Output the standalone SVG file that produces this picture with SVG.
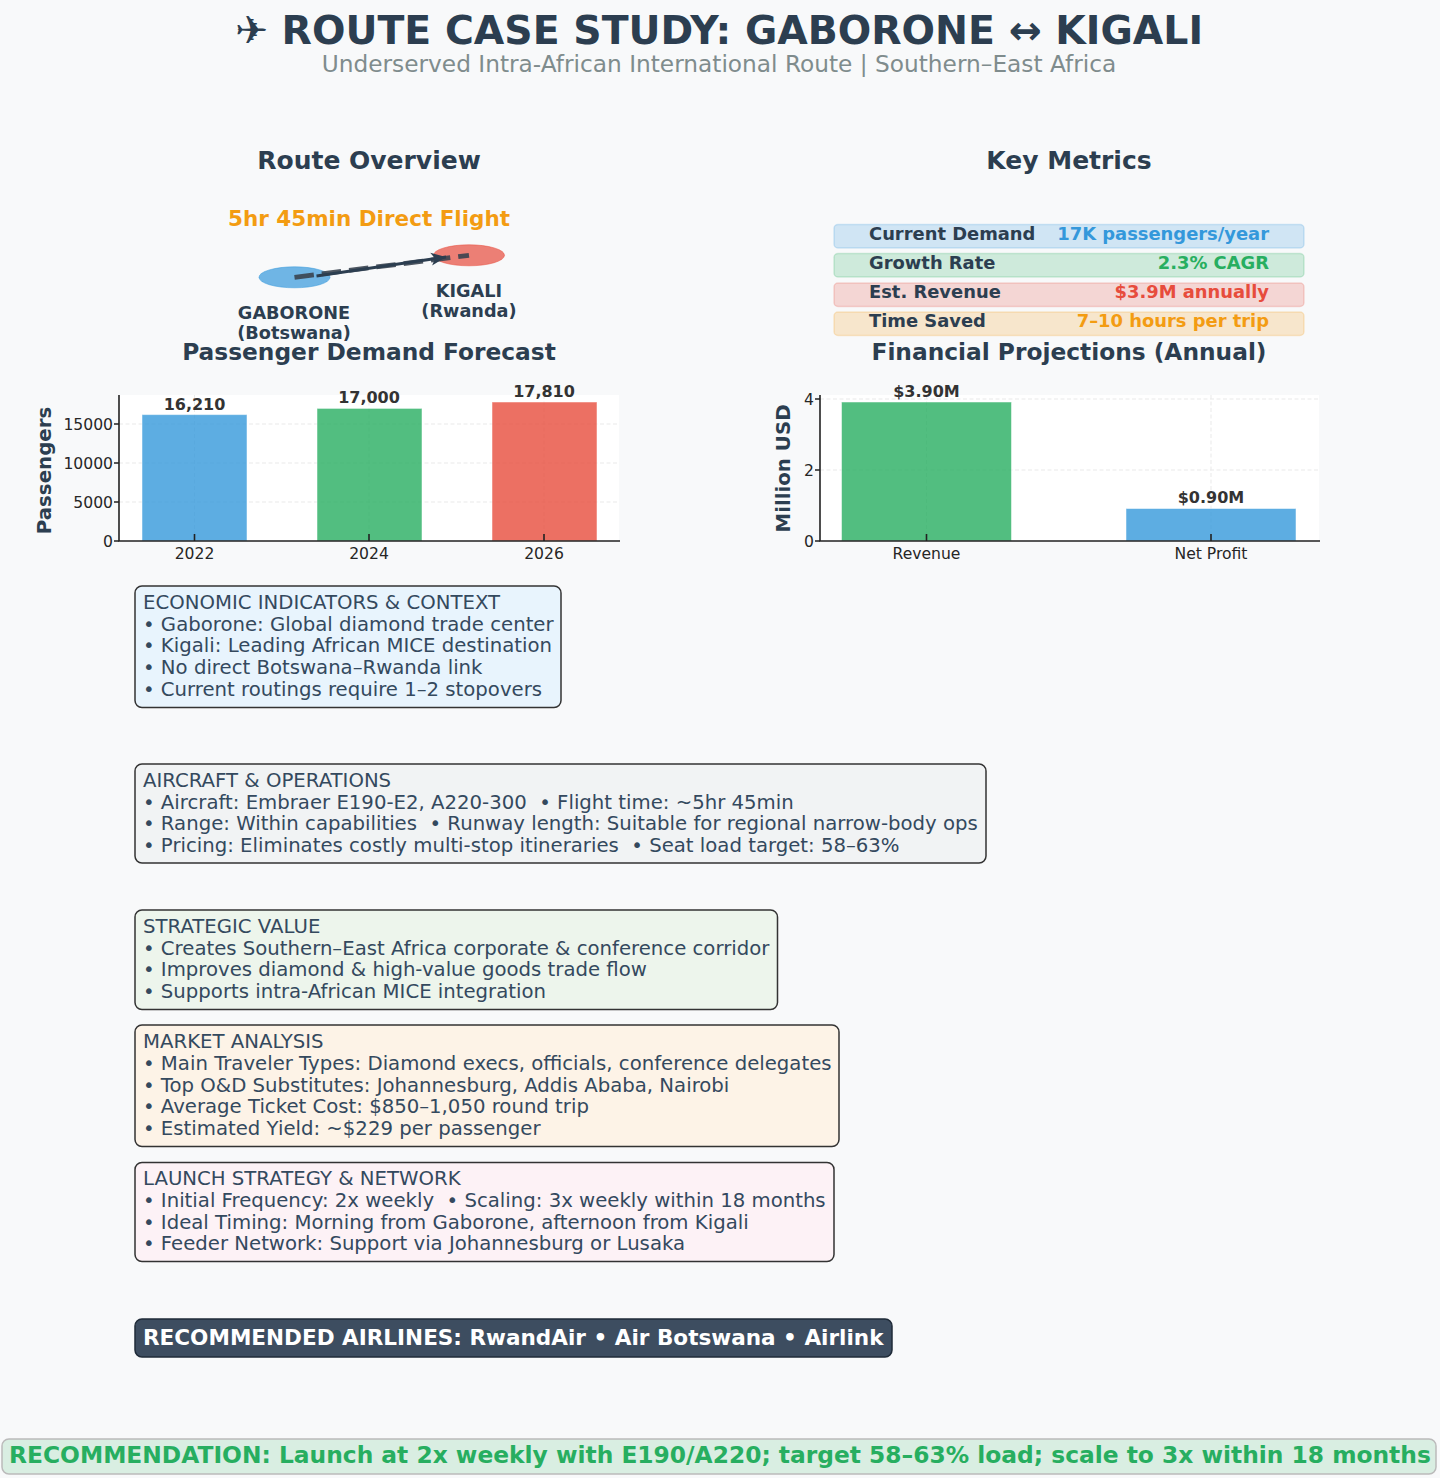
<svg xmlns="http://www.w3.org/2000/svg" width="1440" height="1478" viewBox="0 0 1440 1478">
<style>
text{font-family:"DejaVu Sans","Liberation Sans",sans-serif;white-space:pre;fill:#2c3e50}
.b{font-weight:700}
.m{text-anchor:middle}
.e{text-anchor:end}
.h{font-size:25px;font-weight:700;text-anchor:middle}
.h2{font-size:23.3px;font-weight:700;text-anchor:middle}
.box{stroke:#333;stroke-width:1.5}
.bt{font-size:19.7px;fill:#34495e}
.tick{font-size:15.6px;fill:#262626}
.val{font-size:16px;font-weight:700;fill:#333}
.yl{font-size:19.8px;font-weight:700;text-anchor:middle}
.grid{stroke:#ddd;stroke-width:1;stroke-dasharray:4 2.5;opacity:.6}
.ax{stroke:#222;stroke-width:1.6;fill:none}
.bar{stroke:#fff;stroke-opacity:.5;stroke-width:1;fill-opacity:.8}
.mk{font-size:17.9px;font-weight:700}
.mr{stroke-width:1.5;fill-opacity:.2;stroke-opacity:.2}
.city{font-size:17.7px;font-weight:700;text-anchor:middle}
</style>
<defs>
<marker id="ah" markerUnits="userSpaceOnUse" markerWidth="18" markerHeight="14" refX="15" refY="7" orient="auto"><path d="M0 0.500 L15 7 L0 13.500 L4 7 Z" fill="#2c3e50"/></marker>
</defs>
<rect width="1440" height="1478" fill="#f8f9fa"/>
<g id="title">
<text class="b m" x="719" y="44" font-size="39.400">✈ ROUTE CASE STUDY: GABORONE ↔ KIGALI</text>
<text class="m" x="719" y="72" font-size="23.260" style="fill:#7f8c8d">Underserved Intra-African International Route | Southern–East Africa</text>
</g>
<g id="route-overview">
<text class="h" x="369" y="169">Route Overview</text>
<text class="b m" x="369" y="226" font-size="21.500" style="fill:#f39c12">5hr 45min Direct Flight</text>
</g>
<g id="node-gaborone">
<ellipse cx="294.500" cy="277.300" rx="35.500" ry="10.500" fill="#3498db" fill-opacity=".7" stroke="#3498db" stroke-opacity=".5"/>
<text class="city" x="294" y="319">GABORONE</text>
<text class="city" x="294" y="339">(Botswana)</text>
</g>
<g id="node-kigali">
<ellipse cx="469" cy="255.300" rx="35.500" ry="10.500" fill="#e74c3c" fill-opacity=".7" stroke="#e74c3c" stroke-opacity=".5"/>
<text class="city" x="469" y="297">KIGALI</text>
<text class="city" x="469" y="317">(Rwanda)</text>
</g>
<g id="connectors">
<line x1="294.500" y1="277.300" x2="469" y2="255.300" stroke="#3a4450" stroke-opacity=".9" stroke-width="4.800" stroke-dasharray="19.500 8"/>
<line x1="316.500" y1="276" x2="446" y2="257" stroke="#2c3e50" stroke-width="2.800" marker-end="url(#ah)"/>
</g>
<g id="key-metrics">
<text class="h" x="1069" y="169">Key Metrics</text>
</g>
<g id="metric-demand">
<rect class="mr" x="834" y="224.500" width="470" height="23.500" rx="4" fill="#3498db" stroke="#3498db"/>
<text class="mk" x="869" y="239.500">Current Demand</text>
<text class="mk e" x="1269" y="239.500" style="fill:#3498db">17K passengers/year</text>
</g>
<g id="metric-growth">
<rect class="mr" x="834" y="253.500" width="470" height="23.500" rx="4" fill="#27ae60" stroke="#27ae60"/>
<text class="mk" x="869" y="268.500">Growth Rate</text>
<text class="mk e" x="1269" y="268.500" style="fill:#27ae60">2.3% CAGR</text>
</g>
<g id="metric-revenue">
<rect class="mr" x="834" y="283" width="470" height="23.500" rx="4" fill="#e74c3c" stroke="#e74c3c"/>
<text class="mk" x="869" y="297.500">Est. Revenue</text>
<text class="mk e" x="1269" y="297.500" style="fill:#e74c3c">$3.9M annually</text>
</g>
<g id="metric-time">
<rect class="mr" x="834" y="312" width="470" height="23.500" rx="4" fill="#f39c12" stroke="#f39c12"/>
<text class="mk" x="869" y="326.500">Time Saved</text>
<text class="mk e" x="1269" y="326.500" style="fill:#f39c12">7–10 hours per trip</text>
</g>
<g id="chart-passengers">
<text class="h2" x="369" y="360">Passenger Demand Forecast</text>
<rect x="119" y="395" width="500" height="146" fill="#fff"/>
<path class="grid" d="M119 424H619M119 463H619M119 502H619M194.500 395V541M369 395V541M544 395V541"/>
<rect class="bar" x="142" y="414.600" width="105" height="126.400" fill="#3498db"/>
<rect class="bar" x="317" y="408.400" width="105" height="132.600" fill="#27ae60"/>
<rect class="bar" x="492" y="402" width="105" height="139" fill="#e74c3c"/>
<path class="ax" d="M119 395V541H620"/>
<path class="ax" stroke-width="1" d="M114 424H119M114 463H119M114 502H119M114 541H119M194.500 534V541M369 534V541M544 534V541"/>
<text class="val m" x="194.500" y="410">16,210</text>
<text class="val m" x="369" y="403">17,000</text>
<text class="val m" x="544" y="397">17,810</text>
<text class="tick e" x="113" y="430">15000</text>
<text class="tick e" x="113" y="469">10000</text>
<text class="tick e" x="113" y="508">5000</text>
<text class="tick e" x="113" y="547">0</text>
<text class="tick m" x="194.500" y="559">2022</text>
<text class="tick m" x="369" y="559">2024</text>
<text class="tick m" x="544" y="559">2026</text>
<text class="yl" transform="translate(51 470.500) rotate(-90)">Passengers</text>
</g>
<g id="chart-financial">
<text class="h2" x="1069" y="360">Financial Projections (Annual)</text>
<rect x="820" y="395" width="499" height="146" fill="#fff"/>
<path class="grid" d="M820 399H1319M820 470H1319M926.500 395V541M1211 395V541"/>
<rect class="bar" x="841.500" y="402" width="170" height="139" fill="#27ae60"/>
<rect class="bar" x="1126" y="508.500" width="170" height="32.500" fill="#3498db"/>
<path class="ax" d="M820 395V541H1320"/>
<path class="ax" stroke-width="1" d="M815 399H820M815 470H820M815 541H820M926.500 534V541M1211 534V541"/>
<text class="val m" x="926.500" y="397">$3.90M</text>
<text class="val m" x="1211" y="503">$0.90M</text>
<text class="tick e" x="814" y="405">4</text>
<text class="tick e" x="814" y="476">2</text>
<text class="tick e" x="814" y="547">0</text>
<text class="tick m" x="926.500" y="559">Revenue</text>
<text class="tick m" x="1211" y="559">Net Profit</text>
<text class="yl" transform="translate(790 468.500) rotate(-90)">Million USD</text>
</g>
<g id="box-economic">
<rect class="box" x="135" y="586" width="426" height="121.500" rx="7" fill="#e8f4fd"/>
<text class="bt" x="143" y="609">ECONOMIC INDICATORS &amp; CONTEXT</text>
<text class="bt" x="143" y="631">• Gaborone: Global diamond trade center</text>
<text class="bt" x="143" y="652">• Kigali: Leading African MICE destination</text>
<text class="bt" x="143" y="674">• No direct Botswana–Rwanda link</text>
<text class="bt" x="143" y="696">• Current routings require 1–2 stopovers</text>
</g>
<g id="box-aircraft">
<rect class="box" x="135" y="764" width="851" height="99" rx="7" fill="#f1f3f4"/>
<text class="bt" x="143" y="787">AIRCRAFT &amp; OPERATIONS</text>
<text class="bt" x="143" y="809">• Aircraft: Embraer E190-E2, A220-300  • Flight time: ~5hr 45min</text>
<text class="bt" x="143" y="830">• Range: Within capabilities  • Runway length: Suitable for regional narrow-body ops</text>
<text class="bt" x="143" y="852">• Pricing: Eliminates costly multi-stop itineraries  • Seat load target: 58–63%</text>
</g>
<g id="box-strategic">
<rect class="box" x="135" y="910" width="642.500" height="99.500" rx="7" fill="#edf5ec"/>
<text class="bt" x="143" y="933">STRATEGIC VALUE</text>
<text class="bt" x="143" y="955">• Creates Southern–East Africa corporate &amp; conference corridor</text>
<text class="bt" x="143" y="976">• Improves diamond &amp; high-value goods trade flow</text>
<text class="bt" x="143" y="998">• Supports intra-African MICE integration</text>
</g>
<g id="box-market">
<rect class="box" x="135" y="1025" width="704" height="121.500" rx="7" fill="#fdf3e7"/>
<text class="bt" x="143" y="1048">MARKET ANALYSIS</text>
<text class="bt" x="143" y="1070">• Main Traveler Types: Diamond execs, officials, conference delegates</text>
<text class="bt" x="143" y="1092">• Top O&amp;D Substitutes: Johannesburg, Addis Ababa, Nairobi</text>
<text class="bt" x="143" y="1113">• Average Ticket Cost: $850–1,050 round trip</text>
<text class="bt" x="143" y="1135">• Estimated Yield: ~$229 per passenger</text>
</g>
<g id="box-launch">
<rect class="box" x="135" y="1162.500" width="699" height="99" rx="7" fill="#fdf2f6"/>
<text class="bt" x="143" y="1185">LAUNCH STRATEGY &amp; NETWORK</text>
<text class="bt" x="143" y="1207">• Initial Frequency: 2x weekly  • Scaling: 3x weekly within 18 months</text>
<text class="bt" x="143" y="1229">• Ideal Timing: Morning from Gaborone, afternoon from Kigali</text>
<text class="bt" x="143" y="1250">• Feeder Network: Support via Johannesburg or Lusaka</text>
</g>
<g id="box-airlines">
<rect x="135" y="1319" width="757" height="38" rx="7" fill="#3d4d60" stroke="#1f2b38" stroke-width="1.500"/>
<text class="b" x="143" y="1345" font-size="21.550" style="fill:#fff">RECOMMENDED AIRLINES: RwandAir • Air Botswana • Airlink</text>
</g>
<g id="recommendation">
<rect x="2" y="1439" width="1434" height="35" rx="7" fill="#27ae60" fill-opacity=".15" stroke="#bbb" stroke-width="1.500"/>
<text class="b" x="9" y="1463" font-size="23.350" style="fill:#27ae60">RECOMMENDATION: Launch at 2x weekly with E190/A220; target 58–63% load; scale to 3x within 18 months</text>
</g>
</svg>
